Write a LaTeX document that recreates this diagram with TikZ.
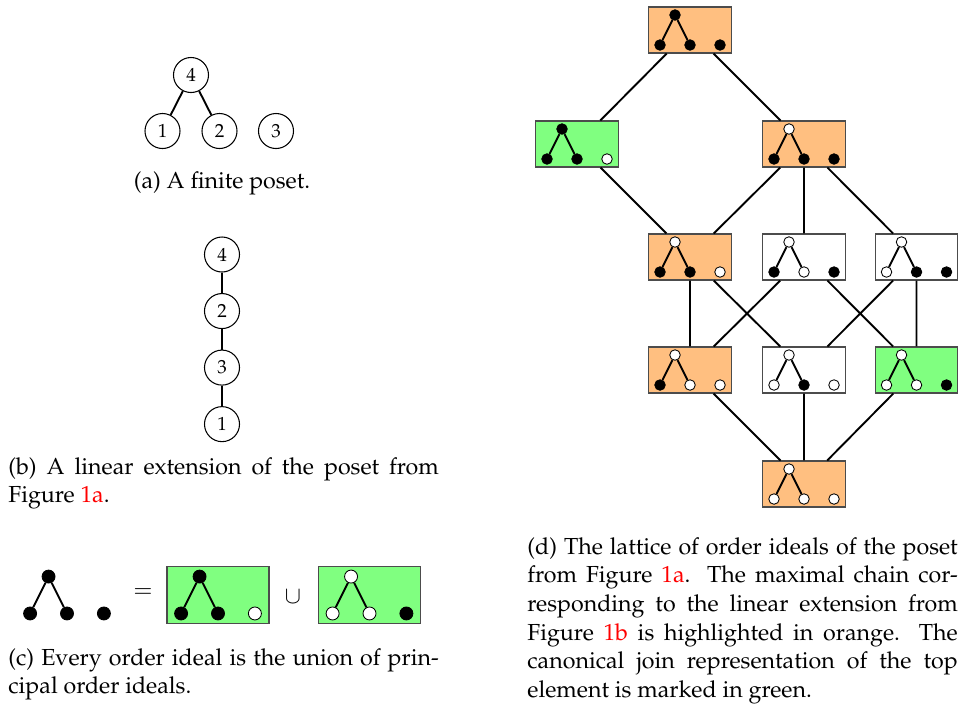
\documentclass[tikz,border=0pt]{standalone}
\usepackage[T1]{fontenc}
\usepackage{mathpazo}
\usepackage{xcolor}
\usetikzlibrary{positioning,calc}

\begin{document}
\begin{tikzpicture}[x=0.474pt, y=-0.474pt,
  every node/.style={font=\fontsize{11}{13.6}\selectfont},
  num/.style={draw, circle, line width=0.5pt, minimum size=16.6pt, inner sep=0pt, font=\fontsize{9}{11}\selectfont},
  hasse/.style={line width=0.9pt},
  ibox/.style={draw=black!70, line width=0.5pt, minimum width=39.3pt, minimum height=21.8pt, inner sep=0pt},
  idot/.style={draw, circle, line width=0.4pt, minimum size=5pt, inner sep=0pt},
  cover/.style={line width=0.9pt},
  capt/.style={text width=204pt, align=justify, inner sep=0pt, anchor=base west},
  pics/ideal/.style n args={5}{code={
    \node[ibox, fill=#1] (-b) at (0,0) {};
    \node[idot, fill=#2] (-4) at (-15,-15) {};
    \node[idot, fill=#3] (-1) at (-30,15) {};
    \node[idot, fill=#4] (-2) at (0,15) {};
    \node[idot, fill=#5] (-3) at (30,15) {};
    \draw[hasse] (-4) -- (-1) (-4) -- (-2);
  }}]
 \useasboundingbox (0,0) rectangle (958,707);
 % (a) the poset
 \node[num] (p1) at (162.5,131) {1};
 \node[num] (p2) at (219.5,131) {2};
 \node[num] (p3) at (276,131) {3};
 \node[num] (p4) at ($(p1)!0.5!(p2)+(0,-56)$) {4};
 \draw[hasse] (p4) -- (p1) (p4) -- (p2);
 \node[anchor=base] (capa) at (222,188) {(a) A finite poset.};
 % (b) linear extension
 \node[num] (l4) at (222,254.5) {4};
 \node[num, on grid, below=26.8pt of l4] (l2) {2};
 \node[num, on grid, below=26.8pt of l2] (l3) {3};
 \node[num, on grid, below=26.8pt of l3] (l1) {1};
 \draw[hasse] (l4) -- (l2) -- (l3) -- (l1);
 \node[capt] (capb) at (8,474) {(b) A linear extension of the poset from\linebreak Figure~\textcolor{red}{1a}.};
 % (c) union of principal ideals
 \pic[scale=1.23, transform shape, ibox/.append style={draw=none}] (lhs) at (67,595) {ideal={none}{black}{black}{black}{black}};
 \node (eq) at (143,593) {$=$};
 \pic[scale=1.23, transform shape] (j124) at (218,595) {ideal={green!50}{black}{black}{black}{white}};
 \node (cup) at (293,597) {$\cup$};
 \pic[scale=1.23, transform shape] (j3) at (369.5,595) {ideal={green!50}{white}{white}{white}{black}};
 \node[capt] (capc) at (8,665) {(c) Every order ideal is the union of prin-\linebreak cipal order ideals.};
 % (d) lattice of order ideals
 \pic (i1234) at (690,30) {ideal={orange!50}{black}{black}{black}{black}};
 \pic (i124) at (577,144) {ideal={green!50}{black}{black}{black}{white}};
 \pic (i123) at (804,144) {ideal={orange!50}{white}{black}{black}{black}};
 \pic (i12) at (690,257) {ideal={orange!50}{white}{black}{black}{white}};
 \pic (i13) at (804,257) {ideal={white}{white}{black}{white}{black}};
 \pic (i23) at (916.5,257) {ideal={white}{white}{white}{black}{black}};
 \pic (i1) at (690,370) {ideal={orange!50}{white}{black}{white}{white}};
 \pic (i2) at (804,370) {ideal={white}{white}{white}{black}{white}};
 \pic (i3) at (916.5,370) {ideal={green!50}{white}{white}{white}{black}};
 \pic (i0) at (804,484) {ideal={orange!50}{white}{white}{white}{white}};
 \draw[cover] (i1234-b) -- (i124-b) (i1234-b) -- (i123-b)
   (i124-b) -- (i12-b) (i123-b) -- (i12-b) (i123-b) -- (i13-b) (i123-b) -- (i23-b)
   (i12-b) -- (i1-b) (i12-b) -- (i2-b) (i13-b) -- (i1-b) (i13-b) -- (i3-b)
   (i23-b) -- (i2-b) (i23-b) -- (i3-b)
   (i1-b) -- (i0-b) (i2-b) -- (i0-b) (i3-b) -- (i0-b);
 \node[capt] (capd) at (527,554) {(d) The lattice of order ideals of the poset\linebreak from Figure~\textcolor{red}{1a}. The maximal chain cor-\linebreak responding to the linear extension from\linebreak Figure~\textcolor{red}{1b} is highlighted in orange. The\linebreak canonical join representation of the top\linebreak element is marked in green.};
\end{tikzpicture}
\end{document}
